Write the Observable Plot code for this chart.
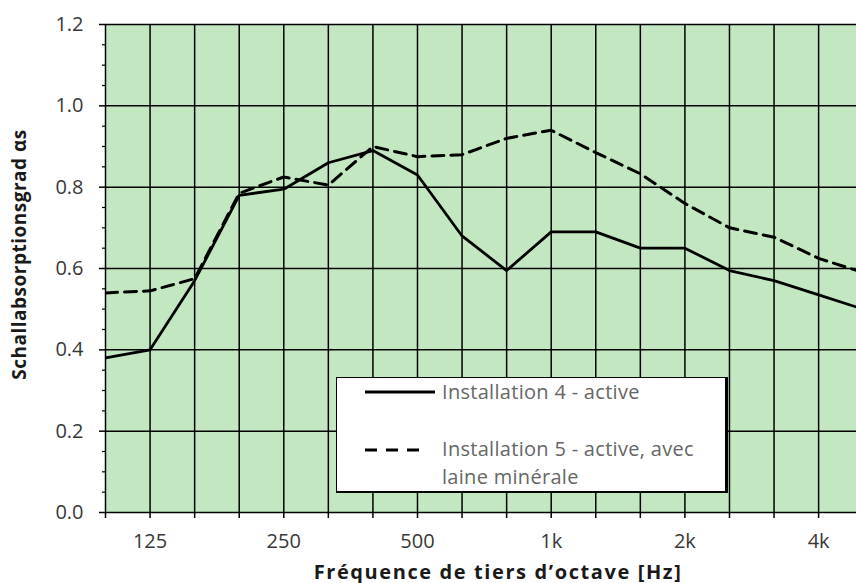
<!DOCTYPE html>
<html>
<head>
<meta charset="utf-8">
<script src="https://cdn.jsdelivr.net/npm/d3@7"></script>
<script src="https://cdn.jsdelivr.net/npm/@observablehq/plot@0.6"></script>
<style>
  html, body { margin: 0; padding: 0; background: #fff; }
  #wrap { position: relative; width: 856px; height: 583px; font-family: "Open Sans", sans-serif; }
  #legend {
    position: absolute; left: 336px; top: 377px; width: 388px; height: 113px;
    background: #fff; border: 1px solid #000; border-right-width: 3px; border-bottom-width: 2px;
    font-size: 20px; letter-spacing: 0.3px; color: #666;
  }
  #legend svg { position: absolute; }
  #legend .txt { position: absolute; line-height: 28px; white-space: nowrap; }
</style>
</head>
<body>
<div id="wrap"></div>
<script>
// Third-octave band centre frequencies (index positions on the x axis)
const bands = ["100","125","160","200","250","315","400","500","630","800","1k","1.25k","1.6k","2k","2.5k","3.15k","4k","5k"];
// Installation 4 - active (solid)
const install4 = [0.38,0.40,0.57,0.78,0.795,0.86,0.89,0.83,0.68,0.595,0.69,0.69,0.65,0.65,0.595,0.57,0.535,0.50];
// Installation 5 - active, avec laine minérale (dashed)
const install5 = [0.54,0.545,0.575,0.785,0.825,0.805,0.90,0.875,0.88,0.92,0.94,0.885,0.833,0.76,0.70,0.677,0.625,0.59];
// Labelled x ticks
const xTickLabels = {1:"125", 4:"250", 7:"500", 10:"1k", 13:"2k", 16:"4k"};
const yMajor = [0, 0.2, 0.4, 0.6, 0.8, 1.0, 1.2];
const yMinor = d3.range(0, 1.2001, 0.05).filter(v => Math.abs(v*5 - Math.round(v*5)) > 1e-6);
const legendLabels = ["Installation 4 - active", "Installation 5 - active, avec", "laine minérale"];
const xTitle = "Fréquence de tiers d’octave [Hz]";
const yTitle = "Schallabsorptionsgrad αs";

const d4 = install4.map((v, i) => ({i, v}));
const d5 = install5.map((v, i) => ({i, v}));
const xTicks = d3.range(0, 17);

const chart = Plot.plot({
  width: 856,
  height: 583,
  marginLeft: 105,
  marginRight: 0,
  marginTop: 24,
  marginBottom: 71,
  style: {fontFamily: "Open Sans, sans-serif", fontSize: "20px", color: "#383838", background: "#fff"},
  x: {type: "linear", domain: [0, 16.85]},
  y: {domain: [0, 1.2]},
  marks: [
    Plot.frame({fill: "#c3e8c1", stroke: "none"}),
    Plot.ruleX(xTicks, {stroke: "#000", strokeWidth: 1.5}),
    Plot.ruleY(yMajor, {stroke: "#000", strokeWidth: 1.5}),
    Plot.axisX({ticks: xTicks, tickSize: 6, tickPadding: 15, stroke: "#000", strokeWidth: 1.5,
      tickFormat: i => xTickLabels[i] ?? "", label: null, fill: "#383838"}),
    Plot.axisY({ticks: yMajor, tickSize: 6, tickPadding: 16, stroke: "#000", strokeWidth: 1.5,
      tickFormat: d3.format(".1f"), label: null, fill: "#383838"}),
    Plot.axisY({ticks: yMinor, tickSize: 3, stroke: "#000", strokeWidth: 1.2, tickFormat: null, text: null, label: null}),
    Plot.line(d5, {x: "i", y: "v", stroke: "#000", strokeWidth: 3, strokeDasharray: "12,7", clip: true}),
    Plot.line(d4, {x: "i", y: "v", stroke: "#000", strokeWidth: 2.8, clip: true}),
    Plot.text([xTitle], {frameAnchor: "bottom", dy: 66, dx: 17, fontWeight: "bold", fontSize: 20, fill: "#1a1a1a", lineAnchor: "bottom", className: "xtitle"}),
    Plot.text([yTitle], {frameAnchor: "left", dx: -86, dy: -14, rotate: -90, textAnchor: "middle", fontWeight: "bold", fontSize: 19, fill: "#1a1a1a", className: "ytitle"})
  ]
});

d3.select(chart).selectAll(".xtitle text").style("letter-spacing", "1.6px");
d3.select(chart).selectAll(".ytitle text").style("letter-spacing", "0.5px");

const wrap = document.getElementById("wrap");
wrap.appendChild(chart);

// Legend (HTML overlay inside the plot area)
const legend = document.createElement("div");
legend.id = "legend";
legend.innerHTML = `
  <svg width="80" height="110" style="left:27px;top:0">
    <line x1="1" x2="71" y1="14" y2="14" stroke="#000" stroke-width="3"/>
    <line x1="1" x2="61" y1="72" y2="72" stroke="#000" stroke-width="3" stroke-dasharray="12,9"/>
  </svg>
  <div class="txt" style="left:105px;top:0px">${legendLabels[0]}</div>
  <div class="txt" style="left:105px;top:57px">${legendLabels[1]}</div>
  <div class="txt" style="left:105px;top:85px">${legendLabels[2]}</div>
`;
wrap.appendChild(legend);
</script>
</body>
</html>
